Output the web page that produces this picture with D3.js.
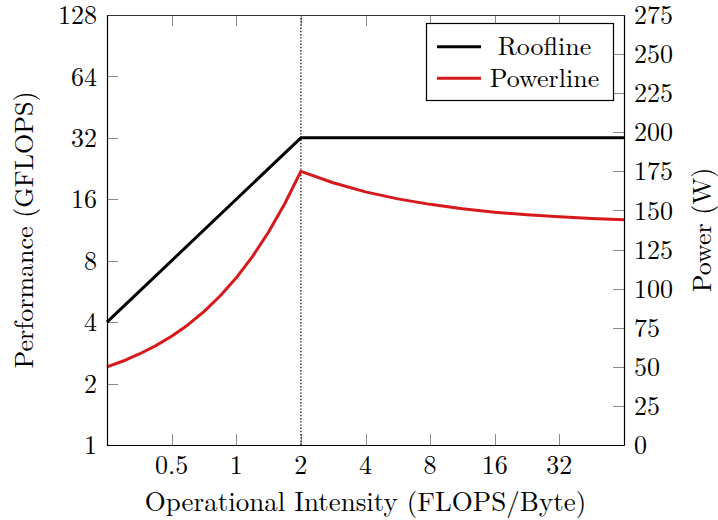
<!DOCTYPE html>
<html>
<head>
<meta charset="utf-8">
<script src="https://cdn.jsdelivr.net/npm/d3@7"></script>
<style>
  html, body { margin: 0; padding: 0; background: #fff; }
</style>
</head>
<body>
<svg id="chart" width="718" height="520"></svg>
<script>
// ---- data ----
const xTicks = [0.5, 1, 2, 4, 8, 16, 32];
const yLeftTicks = [1, 2, 4, 8, 16, 32, 64, 128];
const yRightTicks = [0, 25, 50, 75, 100, 125, 150, 175, 200, 225, 250, 275];

const rooflineX = [0.25, 2, 64];
const rooflineGF = [4, 32, 32];

const powerX = [0.25, 0.2973, 0.3536, 0.4204, 0.5, 0.5946, 0.7071, 0.8409, 1, 1.1892, 1.4142, 1.6818, 2,
                2.828, 4, 5.657, 8, 11.31, 16, 22.63, 32, 45.25, 64];
const powerW = [50, 53.7, 58.2, 63.4, 69.5, 76.8, 85.3, 95.3, 106.9, 120.5, 136.2, 154.3, 175,
                167.7, 161.9, 157.4, 153.9, 151.1, 148.9, 147.2, 145.9, 144.8, 144];

const ridgeX = 2;
const seriesNames = ["Roofline", "Powerline"];
const seriesColors = ["#000000", "#d8191c"];

// ---- layout ----
const m = { left: 107, right: 624, top: 15, bottom: 445 };
const FONT = "'Latin Modern Roman'";

const svg = d3.select("#chart");

const x = d3.scaleLog().base(2).domain([0.25, 64]).range([m.left, m.right]);
const yL = d3.scaleLog().base(2).domain([1, 128]).range([m.bottom, m.top]);
const yR = d3.scaleLinear().domain([0, 275]).range([m.bottom, m.top]);

const tickLen = 11;
const tickColor = "#8a8a8a";
const fs = 26;

function txt(sel, size) {
  return sel.append("text").style("font-family", FONT).attr("font-size", size || fs).attr("fill", "#000");
}

// ticks (inside)
const g = svg.append("g");
xTicks.forEach(t => {
  const px = Math.round(x(t)) + 0.5;
  g.append("line").attr("x1", px).attr("x2", px).attr("y1", m.bottom).attr("y2", m.bottom - tickLen)
    .attr("stroke", tickColor).attr("stroke-width", 1);
  g.append("line").attr("x1", px).attr("x2", px).attr("y1", m.top).attr("y2", m.top + tickLen)
    .attr("stroke", tickColor).attr("stroke-width", 1);
});
yLeftTicks.forEach(t => {
  const py = Math.round(yL(t)) + 0.5;
  g.append("line").attr("x1", m.left).attr("x2", m.left + tickLen).attr("y1", py).attr("y2", py)
    .attr("stroke", tickColor).attr("stroke-width", 1);
});
yRightTicks.forEach(t => {
  const py = Math.round(yR(t)) + 0.5;
  g.append("line").attr("x1", m.right - tickLen).attr("x2", m.right).attr("y1", py).attr("y2", py)
    .attr("stroke", tickColor).attr("stroke-width", 1);
});

// ridge dotted line
svg.append("line")
  .attr("x1", x(ridgeX)).attr("x2", x(ridgeX))
  .attr("y1", m.bottom).attr("y2", m.top)
  .attr("stroke", "#222").attr("stroke-width", 1.4)
  .attr("stroke-dasharray", "1.4,1.8");

// series
const lineRoof = d3.line().x(d => x(d[0])).y(d => yL(d[1]));
svg.append("path")
  .attr("d", lineRoof(d3.zip(rooflineX, rooflineGF)))
  .attr("fill", "none").attr("stroke", seriesColors[0]).attr("stroke-width", 3)
  .attr("stroke-linejoin", "round");

const linePow = d3.line().x(d => x(d[0])).y(d => yR(d[1]));
svg.append("path")
  .attr("d", linePow(d3.zip(powerX, powerW)))
  .attr("fill", "none").attr("stroke", seriesColors[1]).attr("stroke-width", 3)
  .attr("stroke-linejoin", "round");

// frame
svg.append("line").attr("x1", m.left + 0.5).attr("x2", m.left + 0.5).attr("y1", m.top).attr("y2", m.bottom + 0.5)
  .attr("stroke", "#000").attr("stroke-width", 1.2);
svg.append("line").attr("x1", m.right + 0.5).attr("x2", m.right + 0.5).attr("y1", m.top).attr("y2", m.bottom + 0.5)
  .attr("stroke", "#000").attr("stroke-width", 1.2);
svg.append("line").attr("x1", m.left).attr("x2", m.right + 0.5).attr("y1", m.bottom + 0.5).attr("y2", m.bottom + 0.5)
  .attr("stroke", "#000").attr("stroke-width", 1.2);
svg.append("line").attr("x1", m.left).attr("x2", m.right + 0.5).attr("y1", m.top + 0.5).attr("y2", m.top + 0.5)
  .attr("stroke", "#333").attr("stroke-width", 1.2);

// tick labels
xTicks.forEach(t => {
  txt(svg).attr("x", x(t)).attr("y", m.bottom + 29)
    .attr("text-anchor", "middle").text(String(t));
});
yLeftTicks.forEach(t => {
  txt(svg).attr("x", 97).attr("y", yL(t)).attr("dy", "0.35em")
    .attr("text-anchor", "end").text(String(t));
});
yRightTicks.forEach(t => {
  txt(svg).attr("x", 634).attr("y", yR(t)).attr("dy", "0.35em")
    .attr("text-anchor", "start").text(String(t));
});

// axis labels
txt(svg, 27).attr("x", (m.left + m.right) / 2).attr("y", 511)
  .attr("text-anchor", "middle").text("Operational Intensity (FLOPS/Byte)");
txt(svg).attr("transform", `translate(33, ${(m.top + m.bottom) / 2}) rotate(-90)`)
  .attr("text-anchor", "middle").text("Performance (GFLOPS)");
txt(svg).attr("transform", `translate(711, ${(m.top + m.bottom) / 2}) rotate(-90)`)
  .attr("text-anchor", "middle").text("Power (W)");

// legend
const lg = svg.append("g");
lg.append("rect").attr("x", 426.5).attr("y", 23.5).attr("width", 187).attr("height", 77)
  .attr("fill", "#fff").attr("stroke", "#000").attr("stroke-width", 1.2);
seriesNames.forEach((name, i) => {
  const yy = 46.7 + i * 31.6;
  lg.append("line").attr("x1", 437).attr("x2", 481).attr("y1", yy).attr("y2", yy)
    .attr("stroke", seriesColors[i]).attr("stroke-width", 3);
  txt(lg).attr("x", 544.5).attr("y", yy).attr("dy", "0.33em")
    .attr("text-anchor", "middle").text(name);
});
</script>
</body>
</html>
